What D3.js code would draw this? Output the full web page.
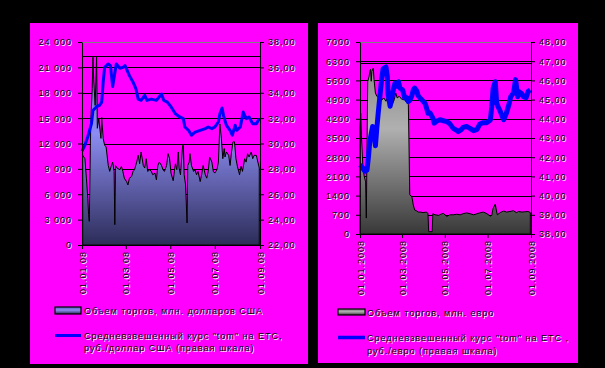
<!DOCTYPE html>
<html><head><meta charset="utf-8">
<script src="https://cdn.jsdelivr.net/npm/d3@7"></script>
<style>
html,body{margin:0;padding:0;background:#000;}
svg{display:block;}
text{font-family:"Liberation Sans",Arial,sans-serif;font-size:9px;letter-spacing:1px;}
</style></head><body>
<svg id="c" width="605" height="368"></svg>
<script>
// ---------- DATA (days counted from 01.01.2008) ----------
const usdVolDays = [1,4,6,8,9,10,12,14,15,16,18,20,21,23,26,27,29,31,33,36,38,40,42,44,45,46,48,52,54,56,58,61,63,65,68,70,72,75,77,79,81,84,86,88,90,93,95,97,100,102,104,106,109,111,113,116,118,120,122,125,128,130,132,133,135,138,139,140,142,144,145,147,148,150,153,155,157,159,162,164,166,169,171,173,175,178,180,182,185,187,189,191,193,195,196,198,201,203,205,207,209,211,213,216,218,220,223,225,227,229,232,234,236,239,240,243];
const usdVolume = [10600,10200,7900,5500,3600,2800,14500,18500,22200,19600,16500,22200,13800,14900,12600,15100,12600,11800,11600,9400,8700,9300,9800,8700,2400,9400,9100,8900,9300,8700,7900,7500,7100,7900,8100,8700,8900,9800,10600,9600,11000,9400,9100,10200,8700,8900,8700,8300,8500,7700,9400,9800,9400,8900,8700,9400,10800,10200,8500,7600,9600,8900,11000,9100,8300,11800,11800,8300,7100,2600,9400,9800,10800,9400,8700,8900,8300,8700,7500,8300,9400,8300,7900,8700,10400,9800,8700,8500,8900,9800,14300,12600,10200,11400,10400,11000,10600,9400,11000,12200,12200,10200,9300,8300,9300,8700,10200,9800,10800,10400,11000,10200,10600,10600,10200,9100];
const usdRateDays = [0,4,8,13,15,20,24,27,29,31,36,39,42,47,52,56,59,62,65,70,74,77,81,86,89,95,102,109,112,117,122,128,134,139,141,146,150,155,162,169,173,178,182,187,189,192,194,198,203,206,210,212,217,221,225,229,234,239,243];
const usdRate = [29.4,29.86,30.55,31.56,32.6,32.9,33.0,33.26,34.8,36.0,36.27,36.14,34.5,36.27,35.93,36.0,36.14,35.74,35.35,34.83,34.3,33.5,33.4,33.8,33.4,33.5,33.4,33.9,33.4,33.26,32.9,32.35,32.09,31.96,31.3,31.04,30.65,30.9,31.04,31.17,31.3,31.17,31.3,31.7,32.35,32.8,32.2,31.43,31.04,30.65,31.43,31.04,31.3,32.48,31.96,32.09,31.56,31.56,31.96];

const eurVolDays = [0,1,2,4,6,8,9,11,13,14,15,16,17,19,20,22,24,27,30,32,34,37,39,41,44,46,49,51,53,56,58,60,63,65,67,69,70,71,74,76,78,81,83,86,90,95,97,98,103,104,107,112,117,119,124,128,133,138,143,147,152,157,162,167,171,176,181,186,188,190,193,195,196,200,205,209,214,219,223,226,231,235,240,243];
const eurVolume = [3900,4400,3600,2500,2100,1900,580,5550,5750,5920,6000,5570,5930,6050,5630,5140,5020,4960,5020,4900,4960,4840,4960,5020,4840,4720,4900,5140,4960,5020,4960,4900,4960,4840,4780,4720,3135,1430,1360,1060,875,840,800,800,780,800,740,85,85,740,700,680,740,750,640,700,700,720,700,740,770,740,700,740,770,800,740,650,680,940,1090,800,700,780,840,800,820,850,780,820,800,810,820,780];
const eurRateDays = [0,2,7,10,12,14,18,20,22,24,26,29,31,33,37,39,40,43,45,48,50,53,55,57,61,62,64,67,69,71,74,76,78,81,83,86,88,93,95,97,100,104,106,109,114,119,124,128,133,137,140,145,147,152,157,162,167,171,176,181,186,188,190,193,195,197,200,204,205,209,213,215,219,222,225,227,231,233,237,240,243];
const eurRate = [41.6,41.53,41.27,41.33,42.0,42.83,43.6,43.25,42.6,43.5,44.3,45.4,46.1,46.6,46.7,46.2,45.3,44.65,45.0,45.6,45.86,45.7,45.93,45.6,45.5,45.34,45.08,45.1,44.9,44.95,45.2,45.5,45.6,45.45,45.2,45.07,45.0,44.8,44.56,44.29,44.3,44.03,43.77,43.87,43.95,43.9,43.85,43.75,43.5,43.42,43.33,43.45,43.55,43.6,43.5,43.38,43.45,43.73,43.8,43.8,43.94,44.63,45.59,45.93,44.82,44.63,44.4,44.03,43.95,44.3,44.81,45.15,45.34,46.04,45.15,45.41,45.3,45.15,45.1,45.43,45.5];

const xTickDates = ["2008-01-01","2008-03-01","2008-05-01","2008-07-01","2008-09-01"];
const usdXLabels = ["01.01.08","01.03.08","01.05.08","01.07.08","01.09.08"];
const eurXLabels = ["01.01.2008","01.03.2008","01.05.2008","01.07.2008","01.09.2008"];
const usdLeftTicks = [0,3000,6000,9000,12000,15000,18000,21000,24000];
const usdLeftLabels = ["0","3 000","6 000","9 000","12 000","15 000","18 000","21 000","24 000"];
const usdRightTicks = [22,24,26,28,30,32,34,36,38];
const usdRightLabels = ["22,00","24,00","26,00","28,00","30,00","32,00","34,00","36,00","38,00"];
const usdExtraGrid = [22300];
const eurLeftTicks = [0,700,1400,2100,2800,3500,4200,4900,5600,6300,7000];
const eurLeftLabels = ["0","700","1400","2100","2800","3500","4200","4900","5600","6300","7000"];
const eurRightTicks = [38,39,40,41,42,43,44,45,46,47,48];
const eurRightLabels = ["38,00","39,00","40,00","41,00","42,00","43,00","44,00","45,00","46,00","47,00","48,00"];
const eurExtraGrid = [6230];

const usdLegend = ["Объем торгов, млн. долларов США", "Средневзвешенный курс \"tom\" на ЕТС,", "руб./доллар США (правая шкала)"];
const eurLegend = ["Объем торгов, млн. евро", "Средневзвешенный курс \"tom\" на ЕТС ,", "руб./евро (правая шкала)"];

// ---------- DRAWING ----------
const svg = d3.select("#c");
svg.append("rect").attr("width",605).attr("height",368).attr("fill","#000");
const defs = svg.append("defs");
const START = new Date(2008,0,1);
const toDate = d => d3.timeDay.offset(START, d);
const parse = d3.timeParse("%Y-%m-%d");

function shadowText(sel){
  sel.each(function(){
    const t = d3.select(this);
    const c = this.cloneNode(true);
    this.parentNode.insertBefore(c, this);
    const tr = t.attr("transform") || "";
    d3.select(c).attr("fill","#fff").attr("transform","translate(1,1) " + tr);
    t.attr("fill","#000");
  });
}
function label(g, x, y, str){
  const t = g.append("text").attr("x",x).attr("y",y).text(str);
  shadowText(t);
}

function drawChart(cfg){
  const g = svg.append("g");
  g.append("rect").attr("x",cfg.panel[0]).attr("y",cfg.panel[1]).attr("width",cfg.panel[2]).attr("height",cfg.panel[3]).attr("fill","#ff00ff");
  const [x0,x1,y0,y1] = cfg.plot;
  const x = d3.scaleTime().domain([parse(xTickDates[0]), parse(xTickDates[xTickDates.length-1])]).range([x0,x1]);
  const yL = d3.scaleLinear().domain([cfg.leftTicks[0], cfg.leftTicks[cfg.leftTicks.length-1]]).range([y1,y0]);
  const yR = d3.scaleLinear().domain([cfg.rightTicks[0], cfg.rightTicks[cfg.rightTicks.length-1]]).range([y1,y0]);

  // gradients
  const gid = cfg.id + "grad";
  const grad = defs.append("linearGradient").attr("id",gid).attr("gradientUnits","userSpaceOnUse")
    .attr("x1",0).attr("x2",0).attr("y1",y0).attr("y2",y1);
  cfg.stops.forEach(s => grad.append("stop").attr("offset",s[0]).attr("stop-color",s[1]));
  const lid = cfg.id + "lgrad";
  const lgrad = defs.append("linearGradient").attr("id",lid).attr("x1",0).attr("x2",0).attr("y1",0).attr("y2",1);
  cfg.stops.forEach(s => lgrad.append("stop").attr("offset",s[0]).attr("stop-color",s[1]));

  // gridlines
  const grid = cfg.leftTicks.slice(1).concat(cfg.extraGrid);
  g.selectAll("line.grid").data(grid).enter().append("line")
    .attr("x1",x0).attr("x2",x1).attr("y1",d=>Math.round(yL(d))+0.5).attr("y2",d=>Math.round(yL(d))+0.5)
    .attr("stroke",(d,i)=> d===cfg.leftTicks[cfg.leftTicks.length-1] ? "#808080" : "#000").attr("stroke-width",1);

  // area
  const vol = cfg.volDays.map((d,i)=>({date:toDate(d), v:cfg.volume[i]}));
  const area = d3.area().x(d=>x(d.date)).y0(yL(0)).y1(d=>yL(d.v));
  g.append("path").datum(vol).attr("d",area).attr("fill",`url(#${gid})`).attr("stroke","#000").attr("stroke-width",1);

  // rate line
  const rate = cfg.rateDays.map((d,i)=>({date:toDate(d), r:cfg.rate[i]}));
  const line = d3.line().x(d=>x(d.date)).y(d=>yR(d.r));
  g.append("path").datum(rate).attr("d",line).attr("fill","none").attr("stroke","#0000ff")
    .attr("stroke-width",cfg.lineW).attr("stroke-linejoin","round");

  // axes
  const styleAxis = a => {
    a.attr("font-family",null).attr("font-size",null);
    a.selectAll("path.domain").attr("stroke","#000");
    a.selectAll(".tick line").attr("stroke","#000");
  };
  const aL = g.append("g").attr("transform",`translate(${x0},0)`)
    .call(d3.axisLeft(yL).tickValues(cfg.leftTicks).tickFormat((d,i)=>cfg.leftLabels[i]).tickSize(4).tickSizeOuter(0).tickPadding(6));
  styleAxis(aL); shadowText(aL.selectAll(".tick text"));
  const aR = g.append("g").attr("transform",`translate(${x1},0)`)
    .call(d3.axisRight(yR).tickValues(cfg.rightTicks).tickFormat((d,i)=>cfg.rightLabels[i]).tickSize(4).tickSizeOuter(0).tickPadding(4));
  styleAxis(aR); shadowText(aR.selectAll(".tick text"));
  const aB = g.append("g").attr("transform",`translate(0,${y1})`)
    .call(d3.axisBottom(x).tickValues(xTickDates.map(parse)).tickFormat((d,i)=>cfg.xLabels[i]).tickSize(4).tickSizeOuter(0));
  styleAxis(aB);
  aB.selectAll(".tick text").attr("transform","rotate(-90)").attr("text-anchor","end")
    .attr("x",-cfg.xLabOff).attr("y",0).attr("dy","0.35em");
  shadowText(aB.selectAll(".tick text"));

  // legend
  const L = cfg.legend;
  g.append("rect").attr("x",L.sx).attr("y",L.ry).attr("width",L.sw).attr("height",L.rh)
    .attr("fill",`url(#${lid})`).attr("stroke","#000").attr("stroke-width",1.2);
  label(g, L.tx, L.t1, cfg.legendText[0]);
  g.append("line").attr("x1",L.sx).attr("x2",L.sx+L.sw).attr("y1",L.ly).attr("y2",L.ly)
    .attr("stroke","#0000ff").attr("stroke-width",L.lw);
  label(g, L.tx, L.t2, cfg.legendText[1]);
  label(g, L.tx, L.t3, cfg.legendText[2]);
}

drawChart({
  id:"usd", panel:[30,23,278,341], plot:[82,260,42,245],
  leftTicks:usdLeftTicks, leftLabels:usdLeftLabels, rightTicks:usdRightTicks, rightLabels:usdRightLabels,
  extraGrid:usdExtraGrid, xLabels:usdXLabels, xLabOff:6,
  volDays:usdVolDays, volume:usdVolume, rateDays:usdRateDays, rate:usdRate, lineW:3,
  stops:[[0,"#5c5cc8"],[0.45,"#8c8cf2"],[1,"#2c2c58"]],
  legend:{sx:55,sw:26,ry:307,rh:7,tx:84,t1:314,ly:335.5,lw:3,t2:338.5,t3:351},
  legendText:usdLegend
});
drawChart({
  id:"eur", panel:[318,23,260,340], plot:[360,531,42,234],
  leftTicks:eurLeftTicks, leftLabels:eurLeftLabels, rightTicks:eurRightTicks, rightLabels:eurRightLabels,
  extraGrid:eurExtraGrid, xLabels:eurXLabels, xLabOff:6,
  volDays:eurVolDays, volume:eurVolume, rateDays:eurRateDays, rate:eurRate, lineW:5,
  stops:[[0,"#7a7a7a"],[0.45,"#b0b0b0"],[1,"#383838"]],
  legend:{sx:338,sw:27,ry:309,rh:6,tx:367,t1:315.5,ly:337.5,lw:3.5,t2:341,t3:353.5},
  legendText:eurLegend
});
</script>
</body></html>
